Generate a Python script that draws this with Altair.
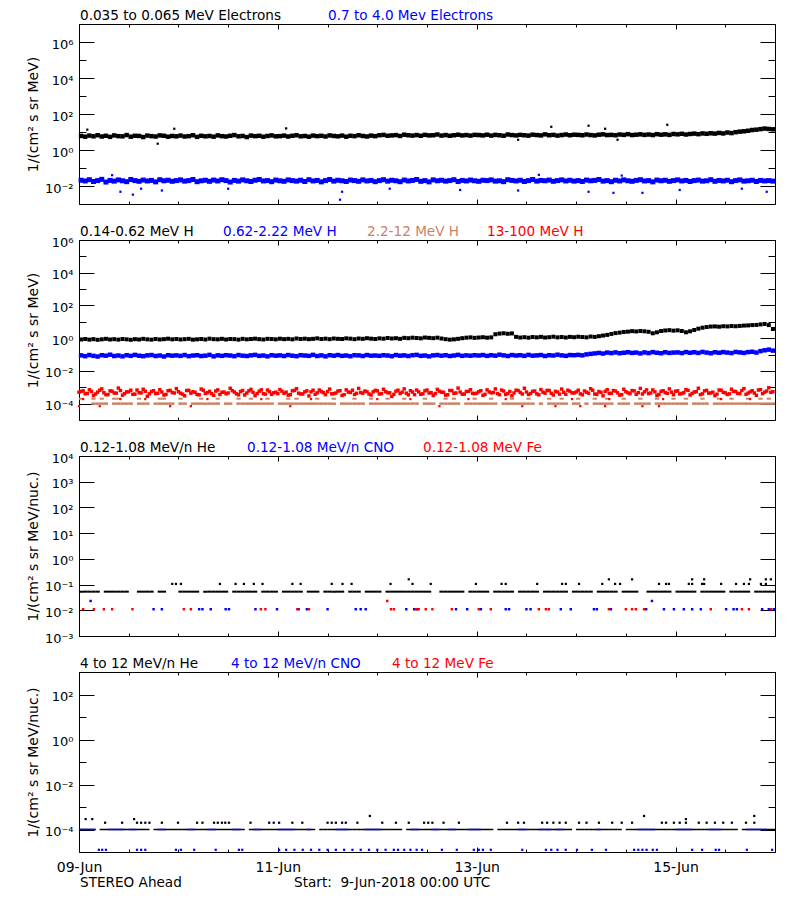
import altair as alt
import pandas as pd

T0 = 1528502400000          # 9-Jun-2018 00:00 UTC in ms
HOUR = 3600000
NH = 168                    # 7 days shown
FONT = "DejaVu Sans"
FS_TICK, FS_TEXT, FS_TITLE, FS_X = 13, 13.6, 14, 14
BLACK, BLUE, RED, BROWN = "#000000", "#0000FF", "#FF0000", "#CD8266"
W, H = 696, 180

# ---------------- data ----------------
# hourly log10(flux) x 100
e_lo = [78,74,80,76,82,75, 79,73,81,77,76,83, 74,79,78,72,80,77, 75,81,79,74,78,76,
        80,75,77,82,73,79, 76,78,74,81,77,75, 79,83,76,78,72,80, 77,79,74,78,81,76,
        77,80,75,79,82,76, 78,74,80,77,79,75, 81,78,76,80,74,79, 77,82,78,75,80,77,
        82,84,79,81,83,78, 85,82,80,83,79,84, 81,82,86,80,83,79, 82,85,81,83,80,84,
        83,81,85,80,84,82, 79,86,83,81,84,82, 80,85,83,81,87,82, 84,80,83,86,82,85,
        84,82,86,83,81,85, 87,83,84,82,86,84, 88,83,85,87,84,86, 83,88,85,87,84,89,
        87,90,86,89,91,88, 92,90,93,91,95,92, 97,94,99,102,104,107, 111,113,116,119,117,115]
e_lo_out_h = [2, 19, 23, 50, 106, 114, 123, 127, 130, 142]
e_lo_out_v = [113, 35, 118, 120, 57, 129, 135, 118, 57, 140]

e_hi = [-168,-172,-165,-175,-170,-163, -178,-169,-173,-166,-171,-176, -164,-170,-174,-167,-172,-169, -177,-165,-171,-168,-174,-170,
        -166,-173,-170,-164,-176,-171, -168,-174,-167,-172,-165,-170, -178,-169,-173,-166,-171,-175, -168,-164,-172,-170,-176,-167,
        -171,-174,-166,-170,-173,-168, -175,-165,-172,-169,-177,-170, -164,-173,-168,-171,-175,-167, -170,-174,-166,-172,-169,-176,
        -170,-165,-173,-168,-171,-176, -167,-172,-169,-164,-174,-170, -177,-166,-171,-168,-173,-170, -165,-175,-169,-172,-167,-171,
        -174,-168,-170,-166,-173,-171, -176,-165,-169,-172,-168,-175, -170,-164,-173,-169,-171,-167, -174,-170,-166,-172,-168,-173,
        -170,-175,-167,-171,-169,-164, -173,-170,-176,-168,-172,-166, -171,-174,-169,-165,-172,-170, -177,-167,-171,-168,-174,-170,
        -166,-172,-169,-175,-170,-167, -173,-171,-165,-174,-169,-172, -168,-176,-170,-166,-173,-171, -168,-175,-169,-172,-170,-173]
e_hi_out_h = [8, 10, 13, 15, 20, 36, 63, 63.5, 75, 92, 106, 111, 123, 129, 131, 136, 145, 160, 166]
e_hi_out_v = [-140, -232, -248, -215, -225, -215, -276, -232, -215, -222, -225, -138, -232, -238, -142, -238, -222, -215, -232]

h1 = [-8,-5,-9,-6,-10,-7, -4,-8,-6,-9,-5,-7, -10,-6,-8,-4,-7,-9, -5,-8,-6,-3,-7,-5,
      -8,-6,-4,-9,-7,-5, -8,-3,-6,-7,-4,-8, -5,-6,-9,-4,-7,-5, -3,-6,-8,-4,-5,-7,
      -3,-6,-4,-7,-2,-5, -3,-6,-4,-1,-5,-3, -6,-2,-4,-5,-1,-3, -6,-2,-4,0,-3,-5,
      -1,-3,1,-2,0,-4, 2,0,3,1,-1,4, 2,0,3,-2,-6,-9, -7,-4,0,3,5,2,
      4,6,3,5,24,28, 30,27,29,8,4,6, 3,7,5,8,4,6, 9,5,7,4,8,6,
      9,7,5,10,8,12, 16,20,26,31,34,38, 40,43,41,44,42,39, 30,36,44,47,49,46,
      48,44,36,42,50,58, 64,68,71,72,70,73, 72,74,73,75,77,78, 80,81,84,87,80,56]

h2 = [-105,-110,-103,-108,-112,-104, -107,-101,-109,-106,-111,-104, -108,-102,-107,-110,-105,-103, -109,-106,-112,-104,-107,-105,
      -108,-103,-110,-106,-104,-109, -107,-102,-111,-105,-108,-104, -106,-110,-103,-107,-109,-105, -102,-108,-106,-111,-104,-107,
      -105,-109,-103,-107,-110,-104, -106,-108,-102,-109,-105,-111, -104,-107,-103,-108,-106,-110, -104,-105,-109,-103,-107,-106,
      -108,-104,-106,-110,-103,-107, -105,-109,-104,-102,-108,-106, -111,-105,-103,-107,-104,-109, -106,-102,-108,-105,-107,-104,
      -106,-103,-108,-104,-107,-101, -105,-109,-103,-106,-104,-108, -102,-107,-105,-103,-109,-104, -106,-101,-105,-108,-103,-104,
      -102,-105,-99,-96,-93,-90, -94,-88,-91,-87,-92,-89, -86,-90,-88,-93,-87,-91, -85,-89,-92,-86,-90,-88,
      -87,-91,-85,-89,-86,-90, -84,-88,-92,-86,-89,-85, -88,-91,-84,-87,-90,-85, -83,-88,-79,-74,-70,-76]

# 13-100 MeV H: two readings per hour (on the hour and on the half hour)
h4 = [-325,-340,-315,-350,-330,-310, -345,-322,-335,-305,-348,-328, -318,-342,-333,-312,-355,-326, -338,-315,-347,-321,-332,-308,
      -336,-352,-319,-327,-344,-311, -338,-325,-349,-316,-331,-340, -306,-329,-346,-320,-335,-313, -351,-324,-339,-317,-343,-330,
      -314,-337,-348,-322,-309,-341, -328,-353,-318,-334,-326,-345, -311,-339,-323,-350,-316,-332, -344,-307,-336,-327,-347,-319,
      -341,-312,-333,-356,-324,-338, -310,-346,-329,-317,-343,-322, -335,-350,-313,-330,-348,-320, -337,-305,-342,-326,-315,-339,
      -327,-349,-316,-334,-310,-345, -323,-338,-352,-318,-331,-306, -344,-325,-340,-314,-336,-320, -347,-329,-311,-343,-324,-335,
      -318,-346,-330,-309,-341,-326, -352,-315,-337,-323,-348,-312, -334,-320,-343,-307,-328,-339, -316,-350,-325,-333,-310,-345,
      -322,-338,-314,-347,-329,-306, -340,-319,-335,-351,-317,-331, -344,-312,-326,-339,-308,-336, -321,-349,-314,-330,-303,-327]
h4b = [-330,-322,-338,-326,-341,-318, -333,-345,-324,-336,-320,-339, -328,-343,-317,-334,-325,-340, -321,-337,-329,-344,-319,-335,
       -327,-342,-320,-336,-331,-346, -318,-333,-339,-323,-344,-329, -335,-321,-340,-326,-347,-322, -331,-338,-316,-342,-327,-334,
       -339,-324,-330,-345,-319,-336, -341,-322,-328,-343,-317,-333, -326,-340,-335,-321,-345,-329, -318,-337,-332,-323,-341,-328,
       -322,-339,-327,-334,-343,-318, -330,-336,-321,-345,-328,-340, -317,-333,-338,-324,-331,-346, -320,-335,-329,-342,-325,-337,
       -336,-321,-343,-328,-332,-339, -317,-344,-326,-335,-320,-341, -329,-338,-323,-346,-330,-319, -337,-325,-342,-331,-318,-334,
       -329,-340,-323,-336,-318,-343, -331,-325,-338,-320,-334,-345, -327,-339,-322,-333,-341,-316, -335,-328,-344,-321,-337,-330,
       -324,-341,-333,-319,-338,-327, -345,-322,-336,-330,-342,-318, -334,-340,-325,-337,-320,-343, -328,-335,-317,-339,-323,-331]
red_low_h = [0, 5, 22, 27, 51, 87, 107, 115, 121, 127, 136, 140]
red_low_level = 7.0e-5
red_mid_h = [1, 10, 16, 31, 44, 56, 72, 80, 94, 103, 119, 128, 141, 155, 162]
red_mid_level = 1.9e-4

brown_lo_level = 1.0e-4
brown_lo_gaps = [0, 1, 2, 7, 13, 17, 23, 26, 34, 37, 47, 62, 69, 82, 86, 92, 101, 110, 112, 118, 121, 123, 129, 133, 138, 147, 152]
brown_hi_level = 2.0e-4
brown_hi_hours = [0, 3, 5, 8, 9, 14, 19, 20, 24, 29, 33, 38, 41, 45, 50, 52, 57, 61, 66, 70, 74, 78, 83, 88, 90, 95,
                  99, 104, 108, 113, 116, 120, 124, 127, 131, 135, 139, 143, 146, 150, 154, 157, 161, 164, 166]

he3_level1, he3_level2, he3_level3 = 0.053, 0.106, 0.16
he3_gaps = [5, 12, 13, 18, 21, 22, 23, 29, 36, 43, 48, 54, 58, 64, 68, 73, 85, 86, 93, 99, 105, 111, 118, 124, 130,
            135, 136, 143, 149, 156, 162]
he3_two = [22.5, 23.4, 24.6, 34, 37.8, 39.8, 42.2, 44.3, 51.5, 53.5, 61, 63.6, 65.8, 75.2, 80.5, 84.9, 95.8, 102, 103,
           110.6, 116.6, 117.5, 120.7, 126.3, 129.4, 130.6, 140, 141.7, 142.4, 147.2, 148, 150.4, 150.9, 155, 158.6,
           160.5, 161.7, 164.6, 165.8]
he3_three = [79.6, 127.9, 133.5, 148, 150.9, 162, 165.8, 167]
cno3_level1, cno3_level2 = 0.011, 0.023
cno3_h = [18, 20, 29, 29.8, 31.8, 35.4, 36.2, 42.6, 47.8, 53, 55, 60, 66.8, 68, 69.2, 79, 80.9, 81.6, 91, 93.7, 97,
          103, 103.8, 108, 109, 116.3, 118.7, 124.3, 125, 128.4, 136.9, 141.2, 143.6, 146, 148, 150.1, 156.2, 158,
          158.8, 164.9, 166.5, 167.7]
cno3_high = [2.8, 138.3]
fe3_h = [1, 3.6, 6, 8, 12.9, 25.3, 27, 43.9, 45, 52.7, 55.5, 75.3, 76, 81.3, 82, 83.7, 85.3, 90, 96.5, 99.4, 111,
         112.7, 113.4, 127.9, 132, 133.5, 134.4, 136.4, 152.5, 160, 161.7, 167]
fe3_high = [74.4]

he4_level = 1.0e-4
he4_gaps = [4, 17, 40, 57, 78, 100, 119, 131, 159]
cno4_line_h = [0, 1, 2, 3, 7, 8, 9, 10, 12, 13, 19, 20, 26, 27, 31, 32, 37, 38, 42, 43, 48, 49, 50, 51, 55, 62, 63, 64,
               69, 70, 71, 72, 80, 81, 85, 86, 89, 90, 94, 95, 96, 106, 107, 111, 112, 113, 115, 116, 125, 135, 136,
               137, 138, 144, 145, 146, 147, 152, 153, 154, 161, 162, 163, 164, 165]
he4_two = [6.3, 10.4, 14, 15, 16, 17, 20, 23.9, 28.5, 29.8, 32.6, 33.5, 34.5, 35.3, 36.2, 41.4, 45.9, 47, 48.3, 51.5,
           53.9, 60, 61, 62, 63.5, 64.4, 67.2, 73.2, 76.5, 79.6, 83.3, 84.3, 85.3, 88, 91.7, 103.3, 106, 107.4, 111.8,
           113, 114.5, 116, 117.5, 120.7, 122.5, 125.5, 128.7, 131, 133.5, 140.7, 141.7, 143.6, 145, 146.5, 149.6,
           151.5, 153.5, 155.5, 157.6, 161, 163]
he4_three = [1.6, 3.2, 13.3, 146.5]
he4_four = [70.2, 136.4, 163]
cno4_low_level = 1.25e-5
cno4_low = [4.8, 5.6, 6.5, 14, 15, 16, 23.4, 24.6, 27.8, 33, 38.6, 39.4, 48.3, 50, 52, 54, 56, 58, 60, 62, 64, 66, 68,
            70, 72, 74, 76, 77, 78.5, 80, 81.5, 82.8, 87.6, 91.2, 95.3, 96.5, 97.5, 99.4, 107, 112.7, 114, 115.5,
            117.5, 120.2, 123.8, 127.2, 134, 135, 136, 137, 138.5, 139.5, 148, 150.4, 153.7, 154.5, 161.2, 167.3]

labels1 = [("0.035 to 0.065 MeV Electrons", BLACK), ("0.7 to 4.0 Mev Electrons", BLUE)]
labels2 = [("0.14-0.62 MeV H", BLACK), ("0.62-2.22 MeV H", BLUE), ("2.2-12 MeV H", BROWN), ("13-100 MeV H", RED)]
labels3 = [("0.12-1.08 MeV/n He", BLACK), ("0.12-1.08 MeV/n CNO", BLUE), ("0.12-1.08 MeV Fe", RED)]
labels4 = [("4 to 12 MeV/n He", BLACK), ("4 to 12 MeV/n CNO", BLUE), ("4 to 12 MeV Fe", RED)]
footer = [("STEREO Ahead", BLACK), ("Start:\u00a0 9-Jun-2018 00:00 UTC", BLACK)]

# ---------------- helpers ----------------
XS = alt.Scale(type="utc", domain=[T0, T0 + NH * HOUR], nice=False)
XMIN = [T0 + k * 12 * HOUR for k in range(15)]
XMAJ = [T0 + k * 48 * HOUR for k in range(4)]


def ylog(lo, hi):
    return alt.Scale(type="log", domain=[lo, hi], nice=False)


def hourly(log100, shift=0.5):
    return pd.DataFrame({"t": [T0 + (i + shift) * HOUR for i in range(len(log100))],
                         "v": [10 ** (v / 100) for v in log100]})


def at_hours(hrs, vals):
    if not isinstance(vals, list):
        vals = [vals] * len(hrs)
    return pd.DataFrame({"t": [T0 + h * HOUR for h in hrs], "v": vals})


def from_log(vals):
    return [10 ** (v / 100) for v in vals]


def level_hours(level, gaps=(), only=None):
    hrs = only if only is not None else [h for h in range(NH) if h not in gaps]
    return pd.DataFrame({"t": [T0 + (h + 0.5) * HOUR for h in hrs], "v": [level] * len(hrs)})


def place(ch, ys):
    return ch.encode(x=alt.X("t:T", scale=XS, axis=None), y=alt.Y("v:Q", scale=ys, axis=None))


def squares(df, ys, color, size):
    return place(alt.Chart(df).mark_square(color=color, size=size, opacity=1, strokeWidth=0), ys)


def dashes(df, ys, color, thick):
    return place(alt.Chart(df).mark_tick(color=color, orient="horizontal", size=4.3,
                                         thickness=thick, opacity=1), ys)


SUP = str.maketrans("-0123456789", "\u207b\u2070\u00b9\u00b2\u00b3\u2074\u2075\u2076\u2077\u2078\u2079")


def decade_labels(exps):
    expr = "''"
    for e in exps:
        expr = f"abs(log(datum.value)/LN10 - ({e})) < 0.01 ? '10{str(e).translate(SUP)}' : " + expr
    return expr


def yaxis_main(vals, exps, title):
    return alt.Axis(orient="left", values=vals, tickSize=15, offset=-15, grid=False, domain=False,
                    tickColor=BLACK, tickWidth=1, labelExpr=decade_labels(exps), labelFont=FONT,
                    labelFontSize=FS_TICK, labelColor=BLACK, labelPadding=6, labelBaseline="middle",
                    labelOffset=2, labelOverlap=False, title=title, titleFont=FONT, titleFontSize=FS_TITLE,
                    titleFontWeight="normal", titleColor=BLACK, titleAngle=270, titleX=-61, titleY=90,
                    titleBaseline="middle", titleAlign="center")


def tick_axis(orient, vals, size):
    return alt.Axis(orient=orient, values=vals, tickSize=size, offset=-size, labels=False, grid=False,
                    domain=False, tickColor=BLACK, tickWidth=1, title=None)


def xaxis_main(show):
    if not show:
        return tick_axis("bottom", XMAJ, 5)
    return alt.Axis(orient="bottom", values=XMAJ, tickSize=5, offset=-5, grid=False, domain=False,
                    tickColor=BLACK, tickWidth=1, title=None, labelExpr="utcFormat(datum.value, '%d-%b')",
                    labelFont=FONT, labelFontSize=FS_X, labelColor=BLACK, labelPadding=8, labelFlush=False,
                    labelOverlap=False, labelBaseline="top")


def text_layer(s, color, xp, yp):
    return alt.Chart(pd.DataFrame({"s": [s]})).mark_text(
        align="left", baseline="alphabetic", font=FONT, fontSize=FS_TEXT, color=color
    ).encode(text="s:N", x=alt.value(xp), y=alt.value(yp))


def panel(ys, ymaj, exps, ymin, ytitle, data_layers, labels, label_x, xlabels=False, extra=()):
    anchor = pd.DataFrame({"t": [T0], "v": [ymaj[-1]]})

    def ax(xa, ya):
        return alt.Chart(anchor).mark_point(opacity=0).encode(
            x=alt.X("t:T", scale=XS, axis=xa), y=alt.Y("v:Q", scale=ys, axis=ya))

    axl = [ax(xaxis_main(xlabels), yaxis_main(ymaj, exps, ytitle)),
           ax(tick_axis("top", XMAJ, 5), tick_axis("right", ymaj, 15)),
           ax(tick_axis("bottom", XMIN, 3), tick_axis("left", ymin, 7) if ymin else None),
           ax(tick_axis("top", XMIN, 3), tick_axis("right", ymin, 7) if ymin else None)]
    txt = [text_layer(s, c, xp, -4) for (s, c), xp in zip(labels, label_x)]
    txt += [text_layer(s, c, xp, yp) for (s, c), (xp, yp) in extra]
    return alt.layer(*axl, *data_layers, *txt).resolve_axis(
        x="independent", y="independent").properties(width=W, height=H)


# ---------------- panels ----------------
ys1 = ylog(1e-3, 1e7)
p1 = panel(ys1, [1e6, 1e4, 1e2, 1e0, 1e-2], [6, 4, 2, 0, -2], [1e5, 1e3, 1e1, 1e-1],
           "1/(cm\u00b2 s sr MeV)",
           [squares(hourly(e_lo), ys1, BLACK, 20),
            squares(at_hours(e_lo_out_h, from_log(e_lo_out_v)), ys1, BLACK, 5),
            squares(hourly(e_hi), ys1, BLUE, 25),
            squares(at_hours(e_hi_out_h, from_log(e_hi_out_v)), ys1, BLUE, 5)],
           labels1, [1, 249])

ys2 = ylog(1e-5, 1e6)
p2 = panel(ys2, [1e6, 1e4, 1e2, 1e0, 1e-2, 1e-4], [6, 4, 2, 0, -2, -4], [1e5, 1e3, 1e1, 1e-1, 1e-3],
           "1/(cm\u00b2 s sr MeV)",
           [squares(hourly(h1), ys2, BLACK, 16),
            squares(hourly(h2), ys2, BLUE, 20),
            dashes(level_hours(brown_lo_level, gaps=brown_lo_gaps), ys2, BROWN, 2.5),
            dashes(level_hours(brown_hi_level, only=brown_hi_hours), ys2, BROWN, 2),
            squares(hourly(h4), ys2, RED, 12),
            squares(hourly(h4b, shift=0.0), ys2, RED, 12),
            squares(at_hours(red_low_h, red_low_level), ys2, RED, 5),
            squares(at_hours(red_mid_h, red_mid_level), ys2, RED, 5)],
           labels2, [1, 144, 288, 408])

ys3 = ylog(1e-3, 1e4)
p3 = panel(ys3, [1e4, 1e3, 1e2, 1e1, 1e0, 1e-1, 1e-2, 1e-3], [4, 3, 2, 1, 0, -1, -2, -3], [],
           "1/(cm\u00b2 s sr MeV/nuc.)",
           [dashes(level_hours(he3_level1, gaps=he3_gaps), ys3, BLACK, 2),
            squares(at_hours(he3_two, he3_level2), ys3, BLACK, 5),
            squares(at_hours(he3_three, he3_level3), ys3, BLACK, 5),
            squares(at_hours(cno3_h, cno3_level1), ys3, BLUE, 6),
            squares(at_hours(cno3_high, cno3_level2), ys3, BLUE, 6),
            squares(at_hours(fe3_h, cno3_level1), ys3, RED, 6),
            squares(at_hours(fe3_high, cno3_level2), ys3, RED, 6)],
           labels3, [1, 168, 344])

ys4 = ylog(1e-5, 1e3)
p4 = panel(ys4, [1e2, 1e0, 1e-2, 1e-4], [2, 0, -2, -4], [1e3, 1e1, 1e-1, 1e-3],
           "1/(cm\u00b2 s sr MeV/nuc.)",
           [dashes(level_hours(he4_level, gaps=he4_gaps), ys4, BLACK, 1.5),
            dashes(level_hours(he4_level, only=cno4_line_h), ys4, BLUE, 1.5),
            squares(at_hours(he4_two, 2.0e-4), ys4, BLACK, 5),
            squares(at_hours(he4_three, 2.9e-4), ys4, BLACK, 5),
            squares(at_hours(he4_four, 4.0e-4), ys4, BLACK, 5),
            squares(at_hours(cno4_low, cno4_low_level), ys4, BLUE, 5)],
           labels4, [1, 152, 313], xlabels=True,
           extra=[(footer[0], (1, 215)), (footer[1], (215, 215))])

chart = alt.vconcat(p1, p2, p3, p4, spacing=36, bounds="flush").properties(
    padding={"left": 17, "top": 0, "right": 10, "bottom": 5}, background="white"
).configure_view(stroke=BLACK, strokeWidth=1)

chart.save("out.html", embed_options={"renderer": "svg", "actions": False})
